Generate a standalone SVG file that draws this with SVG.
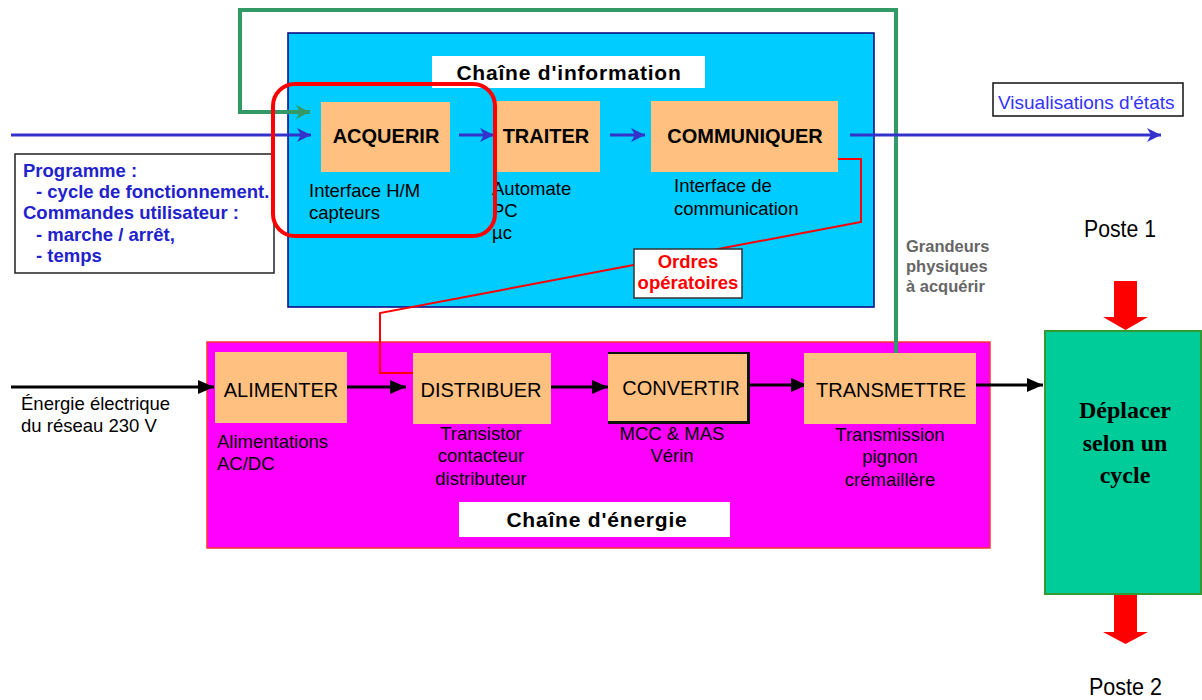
<svg xmlns="http://www.w3.org/2000/svg" width="1202" height="700" viewBox="0 0 1202 700">
<style>
text{font-family:"Liberation Sans",Arial,sans-serif;}
.lbl{font-size:20px;fill:#000;text-anchor:middle;}
.lblb{font-size:20px;font-weight:bold;fill:#000;text-anchor:middle;}
.desc{font-size:18.5px;fill:#000;}
.descm{font-size:18.5px;fill:#000;text-anchor:middle;}
.title{font-size:21px;font-weight:bold;fill:#000;text-anchor:middle;letter-spacing:0.8px;}
.prog{font-size:18.5px;font-weight:bold;fill:#2222cc;}
.box{fill:#ffc080;}
.blue{stroke:#3333cc;stroke-width:3;fill:none;}
.blk{stroke:#000;stroke-width:3;fill:none;}
.poste{font-size:24px;fill:#000;}
.serif{font-family:"Liberation Serif","Times New Roman",serif;font-size:24px;font-weight:bold;fill:#000;text-anchor:middle;}
</style>
<defs>
<marker id="ab" markerUnits="userSpaceOnUse" markerWidth="16" markerHeight="16" refX="14" refY="7" orient="auto"><path d="M0,0 L14,7 L0,14 L4,7 z" fill="#3333cc"/></marker>
<marker id="ag" markerUnits="userSpaceOnUse" markerWidth="16" markerHeight="16" refX="14" refY="7" orient="auto"><path d="M0,0 L14,7 L0,14 L4,7 z" fill="#339966"/></marker>
<marker id="ak" markerUnits="userSpaceOnUse" markerWidth="18" markerHeight="16" refX="16" refY="7" orient="auto"><path d="M0,0 L16,7 L0,14 z" fill="#000"/></marker>
</defs>
<rect width="1202" height="700" fill="#fff"/>

<g id="chaine-information">
<rect x="288" y="33" width="586" height="274" fill="#00ccff" stroke="#000080" stroke-width="1.5"/>
<rect x="432" y="56" width="273" height="32" fill="#fff"/>
<text class="title" x="569" y="80">Chaîne d'information</text>
</g>

<g id="chaine-energie">
<rect x="207" y="342" width="783" height="206" fill="#ff00ff" stroke="#ff3333" stroke-width="1.5"/>
<rect x="459" y="502" width="271" height="35" fill="#fff"/>
<text class="title" x="597" y="527">Chaîne d'énergie</text>
</g>

<g id="programme">
<rect x="15" y="154" width="259" height="119" fill="#fff" stroke="#222" stroke-width="1.5"/>
<text class="prog" x="23" y="177">Programme :</text>
<text class="prog" x="36" y="198">- cycle de fonctionnement.</text>
<text class="prog" x="23" y="219">Commandes utilisateur :</text>
<text class="prog" x="36" y="241">- marche / arrêt,</text>
<text class="prog" x="36" y="262">- temps</text>
</g>

<g id="connectors">
<path d="M896,353 V10 H240 V112 H310" stroke="#339966" stroke-width="4" fill="none" marker-end="url(#ag)"/>
<path d="M838,159 H861 V222 L380,313 V373 H414" stroke="#ff0000" stroke-width="2" fill="none"/>
<line class="blue" x1="11" y1="135" x2="311" y2="135" marker-end="url(#ab)"/>
<line class="blue" x1="459" y1="135" x2="494" y2="135" marker-end="url(#ab)"/>
<line class="blue" x1="610" y1="135" x2="645" y2="135" marker-end="url(#ab)"/>
<line class="blue" x1="850" y1="135" x2="1161" y2="135" marker-end="url(#ab)"/>
<line class="blk" x1="11" y1="387" x2="214" y2="387" marker-end="url(#ak)"/>
<line class="blk" x1="347" y1="387" x2="406" y2="387" marker-end="url(#ak)"/>
<line class="blk" x1="551" y1="387" x2="608" y2="387" marker-end="url(#ak)"/>
<line class="blk" x1="749" y1="385" x2="807" y2="385" marker-end="url(#ak)"/>
<line class="blk" x1="976" y1="385" x2="1043" y2="385" marker-end="url(#ak)"/>
<polygon points="1114,281 1137,281 1137,317 1148,317 1125.5,330 1103,317 1114,317" fill="#ff0000"/>
<polygon points="1114,594 1137,594 1137,632 1148,632 1125.5,644 1103,632 1114,632" fill="#ff0000"/>
</g>

<g id="acquerir">
<rect class="box" x="321" y="102" width="129" height="70"/>
<text class="lblb" x="386" y="143">ACQUERIR</text>
<text class="desc" x="309" y="197">Interface H/M</text>
<text class="desc" x="309" y="219">capteurs</text>
</g>

<g id="traiter">
<rect class="box" x="496" y="101" width="104" height="71"/>
<text class="lblb" x="546" y="143">TRAITER</text>
<text class="desc" x="492" y="195">Automate</text>
<text class="desc" x="492" y="217">PC</text>
<text class="desc" x="492" y="239">µc</text>
</g>

<g id="communiquer">
<rect class="box" x="651" y="101" width="187" height="71"/>
<text class="lblb" x="745" y="143">COMMUNIQUER</text>
<text class="desc" x="674" y="192">Interface de</text>
<text class="desc" x="674" y="215">communication</text>
</g>

<g id="selection">
<rect x="273" y="84" width="222" height="152" rx="22" ry="22" fill="none" stroke="#ff0000" stroke-width="4"/>
</g>

<g id="ordres">
<rect x="634" y="249" width="108" height="49" fill="#fff" stroke="#333" stroke-width="1.5"/>
<text x="688" y="268" text-anchor="middle" font-size="18.5" font-weight="bold" fill="#ff0000">Ordres</text>
<text x="688" y="289" text-anchor="middle" font-size="18.5" font-weight="bold" fill="#ff0000">opératoires</text>
</g>

<g id="visualisations">
<rect x="993" y="83" width="190" height="33" fill="#fff" stroke="#111" stroke-width="1.5"/>
<text x="998" y="109" font-size="19" fill="#3333ff">Visualisations d'états</text>
</g>

<g id="grandeurs">
<text x="906" y="252" font-size="16.5" font-weight="bold" fill="#666">Grandeurs</text>
<text x="906" y="272" font-size="16.5" font-weight="bold" fill="#666">physiques</text>
<text x="906" y="292" font-size="16.5" font-weight="bold" fill="#666">à acquérir</text>
</g>

<g id="energie-entree">
<text class="desc" x="21" y="410">Énergie électrique</text>
<text class="desc" x="21" y="432">du réseau 230 V</text>
</g>

<g id="alimenter">
<rect class="box" x="215" y="352" width="132" height="71"/>
<text class="lbl" x="281" y="397">ALIMENTER</text>
<text class="desc" x="217" y="448">Alimentations</text>
<text class="desc" x="217" y="470">AC/DC</text>
</g>

<g id="distribuer">
<rect class="box" x="413" y="353" width="138" height="71"/>
<text class="lbl" x="481" y="397">DISTRIBUER</text>
<text class="descm" x="481" y="440">Transistor</text>
<text class="descm" x="481" y="462">contacteur</text>
<text class="descm" x="481" y="485">distributeur</text>
</g>

<g id="convertir">
<rect x="608" y="352" width="142" height="72" fill="#111"/>
<rect class="box" x="608" y="354" width="139" height="67"/>
<text class="lbl" x="681" y="395">CONVERTIR</text>
<text class="descm" x="672" y="440">MCC &amp; MAS</text>
<text class="descm" x="672" y="462">Vérin</text>
</g>

<g id="transmettre">
<rect class="box" x="804" y="353" width="172" height="71"/>
<text class="lbl" x="891" y="397">TRANSMETTRE</text>
<text class="descm" x="890" y="441">Transmission</text>
<text class="descm" x="890" y="463">pignon</text>
<text class="descm" x="890" y="486">crémaillère</text>
</g>

<g id="deplacer">
<rect x="1045" y="331" width="156" height="263" fill="#00cc99" stroke="#339933" stroke-width="2"/>
<text class="serif" x="1125" y="418">Déplacer</text>
<text class="serif" x="1125" y="451">selon un</text>
<text class="serif" x="1125" y="483">cycle</text>
</g>

<g id="postes">
<text class="poste" x="1084" y="237" textLength="72" lengthAdjust="spacingAndGlyphs">Poste 1</text>
<text class="poste" x="1089" y="695" textLength="73" lengthAdjust="spacingAndGlyphs">Poste 2</text>
</g>
</svg>
